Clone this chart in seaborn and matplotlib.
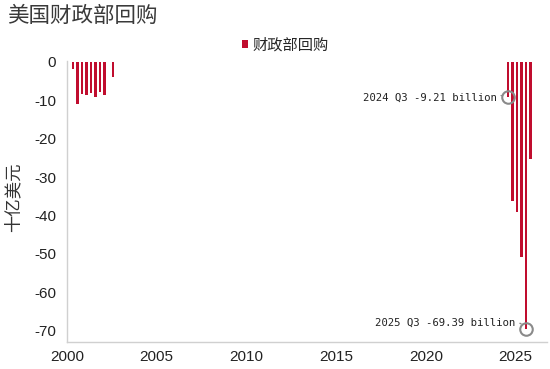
import matplotlib
matplotlib.use("Agg")
import matplotlib.pyplot as plt
import seaborn as sns
import pandas as pd

# ---- data (US Treasury buybacks, billion USD, quarterly) ----
quarters = ["2000Q2", "2000Q3", "2000Q4", "2001Q1", "2001Q2", "2001Q3",
            "2001Q4", "2002Q1", "2002Q3",
            "2024Q3", "2024Q4", "2025Q1", "2025Q2", "2025Q3", "2025Q4"]
buybacks = [-1.9, -10.9, -8.4, -8.7, -8.0, -9.2,
            -7.9, -8.5, -3.9,
            -9.21, -36.1, -39.1, -50.9, -69.39, -25.3]
annotated = ["2024Q3", "2025Q3"]
series_name = "财政部回购"
title = "美国财政部回购"
y_label = "十亿美元"
x_ticks = [2000, 2005, 2010, 2015, 2020, 2025]
y_ticks = [0, -10, -20, -30, -40, -50, -60, -70]

# ---- style ----
sns.set_style("white")
plt.rcParams["font.family"] = ["Liberation Sans", "Noto Sans CJK SC", "DejaVu Sans"]
plt.rcParams["axes.unicode_minus"] = False

RED = "#C00D2E"
GREY = "#8a8a8a"
SPINE = "#d0d0d0"

df = pd.DataFrame({"quarter": quarters, "value": buybacks})
per = pd.PeriodIndex(df["quarter"], freq="Q")
df["t"] = per.year + (per.quarter * 3 - 2) / 12.0

fig = plt.figure(figsize=(5.5, 3.69), dpi=100)
ax = fig.add_axes([67 / 550, 27 / 369, 480 / 550, 281.3 / 369])

sns.barplot(data=df, x="t", y="value", native_scale=True, width=0.5,
            color=RED, saturation=1, errorbar=None, linewidth=0,
            label=series_name, ax=ax)

ax.set_xlim(2000, 2026.75)
ax.set_ylim(-72.9, 0.3)
ax.set_xticks(x_ticks)
ax.set_xticklabels([str(v) for v in x_ticks])
ax.set_yticks(y_ticks)
ax.set_yticklabels([str(v) for v in y_ticks])
ax.set_xlabel("")
ax.set_ylabel(y_label, fontsize=12.5, color="#333333")
ax.yaxis.set_label_coords(-0.094, 0.515)

for s in ["top", "right"]:
    ax.spines[s].set_visible(False)
for s in ["left", "bottom"]:
    ax.spines[s].set_color(SPINE)
    ax.spines[s].set_linewidth(1)

ax.tick_params(axis="both", which="major", length=3, width=1, color=SPINE,
               labelsize=11, labelcolor="#222222")
ax.tick_params(axis="y", pad=5)
ax.tick_params(axis="x", pad=3)
ax.grid(False)

# annotations
offsets = {"2024Q3": (-0.65, 0.0), "2025Q3": (-0.6, 1.5)}
for q in annotated:
    row = df[df["quarter"] == q].iloc[0]
    p = pd.Period(q, freq="Q")
    txt = f"{p.year} Q{p.quarter} {row['value']:.2f} billion"
    ax.plot([row["t"]], [row["value"]], marker="o", ms=9, mfc="none",
            mec=GREY, mew=1.5, zorder=5)
    dx, dy = offsets[q]
    ax.annotate(txt, xy=(row["t"], row["value"]),
                xytext=(row["t"] + dx, row["value"] + dy),
                ha="right", va="center", fontsize=7.7,
                family="DejaVu Sans Mono", color="#222222",
                arrowprops=dict(arrowstyle="-", color=GREY, lw=1,
                                shrinkA=1, shrinkB=5, relpos=(1, 0.5),
                                connectionstyle="arc3,rad=-0.3"))

ax.legend(loc="center", bbox_to_anchor=(285 / 550, 1 - 45 / 369),
          bbox_transform=fig.transFigure, frameon=False, fontsize=11,
          handlelength=0.4, handleheight=0.4, handletextpad=0.3)

fig.text(0.012, 1 - 16 / 369, title, fontsize=15.5, va="center",
         ha="left", color="#3a3a3a")

fig.savefig("out.png", dpi=100)
